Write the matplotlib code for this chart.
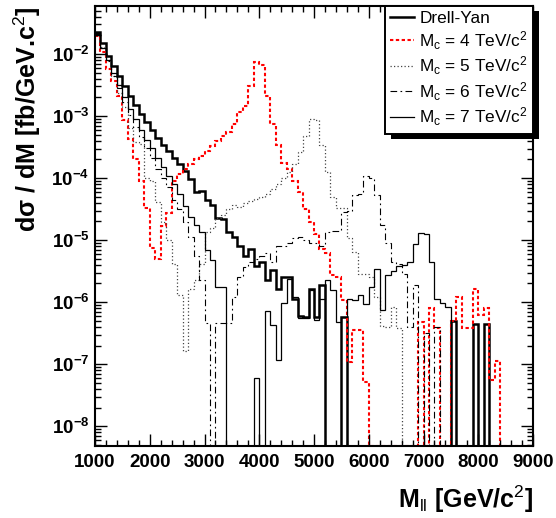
import numpy as np
import matplotlib
matplotlib.use('Agg')
import matplotlib.pyplot as plt
from matplotlib.lines import Line2D
from matplotlib.patches import Rectangle
from matplotlib.transforms import IdentityTransform
from matplotlib.ticker import LogLocator, MultipleLocator, NullFormatter

plt.rcParams['font.family'] = 'Liberation Sans'
plt.rcParams['mathtext.fontset'] = 'custom'
plt.rcParams['mathtext.rm'] = 'Liberation Sans'
plt.rcParams['mathtext.it'] = 'Liberation Sans:italic'
plt.rcParams['mathtext.bf'] = 'Liberation Sans:bold'

# 100 GeV bins from 1 to 9 TeV
m_lo, m_hi, m_step = 1000, 9000, 100

# log10(dsigma/dM) per bin, None = empty bin
drell_yan = [-1.65, -1.83, -2.03, -2.19, -2.36, -2.52, -2.67, -2.82, -2.96, -3.10,
             -3.22, -3.36, -3.46, -3.57, -3.68, -3.78, -3.89, -4.01, -4.22, -4.20,
             -4.36, -4.44, -4.65, -4.66, -4.87, -4.95, -5.10, -5.26, -5.15, -5.42,
             -5.35, -5.64, -5.48, -5.78, -5.60, -5.60, -5.95, -6.22, -6.24, -5.79,
             -6.24, -5.73, None, None, None, -6.24, None, None, None, None,
             None, None, None, None, None, None, None, None, None, None,
             None, None, None, None, None, -6.31, None, None, None, -6.35,
             None, -6.35, None, None, None, None, None, None, None, None]

mc4 = [-1.71, -1.97, -2.24, -2.43, -2.67, -3.07, -3.37, -3.69, -4.04, -4.49,
       -5.13, -5.30, -4.78, -4.57, -4.04, -3.93, -3.85, -3.77, -3.69, -3.64,
       -3.56, -3.48, -3.40, -3.32, -3.26, -3.13, -2.94, -2.83, -2.51, -2.13,
       -2.18, -2.67, -3.13, -3.47, -3.75, -3.85, -4.05, -4.22, -4.50, -4.70,
       -4.90, -5.15, -5.20, -5.57, -5.59, -5.97, -6.96, -6.45, -6.45, -7.28,
       None, None, None, None, None, None, None, None, None, -6.32,
       None, -6.10, -6.42, None, None, -6.31, -5.92, -6.42, -6.42, -5.78,
       -6.21, -6.10, -7.25, -6.95, None, None, None, None, None, None]

mc5 = [-1.70, -1.88, -2.10, -2.35, -2.62, -2.85, -3.20, -3.42, -3.45, -4.00,
       -4.05, -4.38, -4.70, -5.00, -5.38, -5.89, -6.79, -5.78, -5.65, -5.38,
       -4.87, -4.80, -4.65, -4.60, -4.50, -4.44, -4.47, -4.40, -4.37, -4.33,
       -4.30, -4.25, -4.18, -4.10, -4.00, -3.90, -3.77, -3.58, -3.32, -3.05,
       -3.07, -3.47, -3.90, -4.30, -4.49, -4.49, -4.97, -5.19, -5.54, -5.54,
       -5.60, -5.92, -6.38, -6.40, -6.08, -6.42, None, None, None, None,
       None, None, None, None, None, None, None, None, None, None,
       None, None, None, None, None, None, None, None, None, None]

mc6 = [-1.67, -1.90, -2.12, -2.35, -2.55, -2.78, -2.98, -3.18, -3.33, -3.52,
       -3.68, -3.85, -4.00, -4.15, -4.35, -4.50, -4.70, -4.95, -5.25, -5.65,
       -6.34, None, -6.34, -6.34, -6.34, -5.91, -5.59, -5.43, -5.35, -5.30,
       -5.25, -5.20, -5.35, -5.10, -5.10, -5.05, -4.97, -4.95, -5.00, -5.05,
       -5.05, -5.10, -4.87, -4.85, -4.85, -4.55, -4.53, -4.28, -4.26, -3.96,
       -4.00, -4.28, -4.76, -5.05, -5.35, -5.38, -5.54, -6.40, -5.73, None,
       -6.50, None, -6.40, None, None, None, None, None, None, None,
       None, None, None, None, None, None, None, None, None, None]

mc7 = [-1.66, -1.90, -2.10, -2.30, -2.50, -2.70, -2.88, -3.05, -3.22, -3.38,
       -3.52, -3.68, -3.82, -3.97, -4.10, -4.25, -4.45, -4.62, -4.75, -4.87,
       -5.16, -5.32, -5.75, -5.75, None, None, None, None, None, -7.22,
       None, -6.15, -6.37, -6.93, -6.02, -5.62, -5.91, -6.25, -6.25, -5.80,
       -6.28, -5.95, -5.65, -5.81, -6.32, -6.24, -5.95, -5.97, -5.89, -6.03,
       -5.76, -5.46, -6.13, -5.57, -5.50, -5.42, -5.40, -5.35, -5.06, -4.89,
       -4.90, -5.35, -5.95, -6.02, -6.08, None, None, None, None, None,
       None, None, None, None, None, None, None, None, None, None]

labels = ['Drell-Yan',
          r'M$_{\rm c}$ = 4 TeV/c$^{\rm 2}$',
          r'M$_{\rm c}$ = 5 TeV/c$^{\rm 2}$',
          r'M$_{\rm c}$ = 6 TeV/c$^{\rm 2}$',
          r'M$_{\rm c}$ = 7 TeV/c$^{\rm 2}$']

ymin, ymax = 4.8e-9, 5.95e-2
edges = np.arange(m_lo, m_hi + 1, m_step)


def to_vals(logs):
    # empty bins sit on the bottom of the frame, like ROOT draws them
    return np.array([ymin if v is None else 10.0 ** v for v in logs])


fig = plt.figure(figsize=(5.56, 5.18), dpi=100)
ax = fig.add_axes([95 / 556, 72 / 518, 438 / 556, 440 / 518])

styles = [
    dict(color='black', lw=1.8, ls='-'),
    dict(color='red', lw=1.5, ls=(0, (1.6, 1.2))),
    dict(color='#444444', lw=0.9, ls=(0, (1, 1.8))),
    dict(color='black', lw=0.8, ls=(0, (6, 3, 1.5, 3))),
    dict(color='black', lw=0.9, ls='-'),
]
series = [drell_yan, mc4, mc5, mc6, mc7]

for s, st in zip(series, styles):
    ax.stairs(to_vals(s), edges, baseline=None, color=st['color'],
              linewidth=st['lw'], linestyle=st['ls'])

ax.set_yscale('log')
ax.set_xlim(m_lo, m_hi)
ax.set_ylim(ymin, ymax)

ax.set_xticks(np.arange(1000, 9001, 1000))
ax.set_xticklabels([str(v) for v in range(1000, 9001, 1000)],
                   fontsize=13.5, fontweight='bold')
ax.xaxis.set_minor_locator(MultipleLocator(200))
decades = [-2, -3, -4, -5, -6, -7, -8]
ax.set_yticks([10.0 ** d for d in decades])
ax.set_yticklabels([r'$\mathbf{10^{%d}}$' % d for d in decades], fontsize=13.5)
ax.yaxis.set_minor_locator(LogLocator(base=10, subs=np.arange(2, 10), numticks=20))
ax.yaxis.set_minor_formatter(NullFormatter())

ax.tick_params(which='both', direction='in', top=True, right=True, width=1)
ax.tick_params(which='major', length=8.5)
ax.tick_params(which='minor', length=4.3)
ax.tick_params(axis='x', pad=6)
ax.tick_params(axis='y', pad=4)
for sp in ax.spines.values():
    sp.set_linewidth(1.5)

ax.set_xlabel(r'M$_{\rm ll}$ [GeV/c$^{\rm 2}$]', fontsize=18, fontweight='bold',
              loc='right', labelpad=9)
ax.set_ylabel('dσ / dM [fb/GeV.c$^{\\rm 2}$]', fontsize=18, fontweight='bold',
              loc='top')
ax.yaxis.set_label_coords(-0.118, 1.0)

handles = [Line2D([], [], color=st['color'], lw=st['lw'], ls=st['ls']) for st in styles]
leg = ax.legend(handles, labels, loc='upper right', bbox_to_anchor=(1, 1),
                borderaxespad=0, fontsize=12.4, handlelength=1.4,
                handletextpad=0.3, labelspacing=0.17, borderpad=0.3,
                fancybox=False, framealpha=1, edgecolor='black')
leg.get_frame().set_linewidth(1.4)

# ROOT style black drop shadow behind the legend box
fig.canvas.draw()
bb = leg.get_window_extent()
ax.add_patch(Rectangle((bb.x0 + 6, bb.y0 - 5), bb.width, bb.height,
                       transform=IdentityTransform(), facecolor='black',
                       edgecolor='none', clip_on=False, zorder=4.9))

fig.savefig('out.png', dpi=100)
